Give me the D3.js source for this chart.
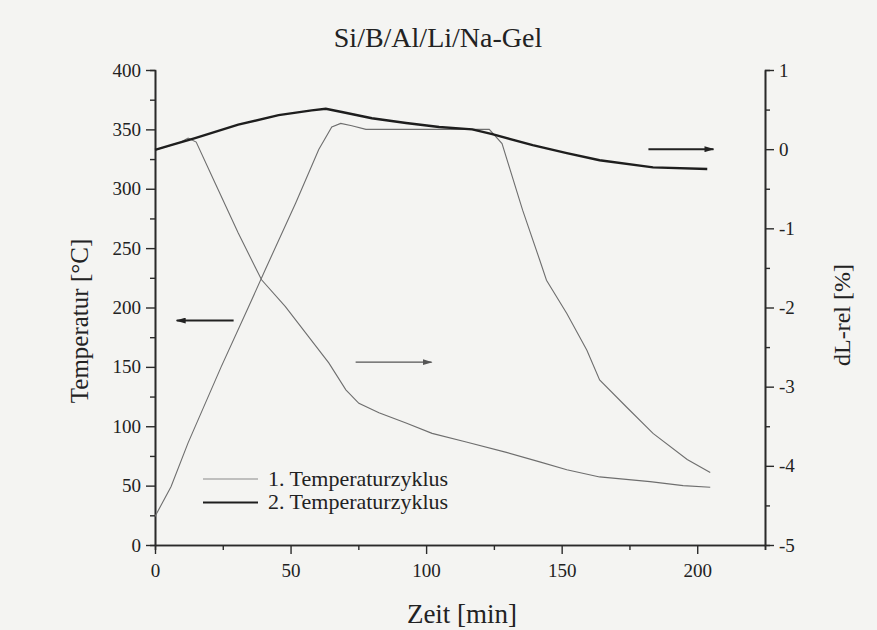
<!DOCTYPE html>
<html>
<head>
<meta charset="utf-8">
<script src="https://cdn.jsdelivr.net/npm/d3@7"></script>
<style>
  body { margin: 0; background: #f4f4f2; }
  svg { display: block; }
  text { font-family: "Liberation Serif", "DejaVu Serif", serif; fill: #222; }
</style>
</head>
<body>
<svg width="877" height="630"></svg>
<script>
const width = 877;
const height = 630;
const serif = "Liberation Serif, DejaVu Serif, serif";

// Temperaturverlauf (linke Achse)
const tempTime = [0, 5.9, 12.2, 24.4, 34.4, 40.7, 51.9, 60.4, 65.2, 68.5, 72.6, 77.8, 100, 123.3, 128, 135.6, 141.9, 144.4, 151.9, 159.3, 164, 174, 183.7, 196.3, 204.8];
const tempValues = [24, 49, 86, 150, 200, 232, 288, 333, 352, 355, 353, 350, 350, 350, 338, 282, 240, 223, 195, 164, 139, 116, 94, 72, 61];

// 1. Temperaturzyklus dL-rel (rechte Achse)
const cycle1Time = [0, 5.9, 9.6, 12.2, 15.2, 22.2, 30.7, 39.3, 48.1, 56.7, 64.1, 70.4, 75.2, 82.6, 92.6, 102.2, 114.8, 129.6, 141.9, 151.9, 164, 182.6, 194.8, 204.8];
const cycle1Values = [-0.01, 0.05, 0.09, 0.14, 0.09, -0.43, -1.06, -1.65, -1.99, -2.37, -2.70, -3.04, -3.21, -3.33, -3.46, -3.59, -3.70, -3.83, -3.95, -4.05, -4.14, -4.20, -4.25, -4.27];

// 2. Temperaturzyklus dL-rel (rechte Achse)
const cycle2Time = [0, 5.9, 14.8, 30.7, 45.6, 57.8, 63, 68.9, 80, 92.6, 104.8, 117, 124.4, 139.3, 151.9, 164, 183.7, 203.7];
const cycle2Values = [-0.01, 0.05, 0.14, 0.31, 0.43, 0.49, 0.51, 0.47, 0.39, 0.33, 0.28, 0.25, 0.19, 0.05, -0.05, -0.14, -0.23, -0.25];

const xTicks = [0, 50, 100, 150, 200];
const leftTicks = [0, 50, 100, 150, 200, 250, 300, 350, 400];
const rightTicks = [-5, -4, -3, -2, -1, 0, 1];

const legendLabels = ["1. Temperaturzyklus", "2. Temperaturzyklus"];

const margin = { left: 155, right: 112, top: 70, bottom: 85 };

const svg = d3.select("svg");

svg.append("rect")
  .attr("width", width)
  .attr("height", height)
  .attr("fill", "#f4f4f2");

const x = d3.scaleLinear()
  .domain([0, 225])
  .range([margin.left, width - margin.right]);

const yLeft = d3.scaleLinear()
  .domain([0, 400])
  .range([height - margin.bottom, margin.top]);

const yRight = d3.scaleLinear()
  .domain([-5, 1])
  .range([height - margin.bottom, margin.top]);

// Achsen
function styleAxis(g) {
  g.attr("font-family", serif);
  g.select(".domain").attr("stroke", "#2a2a2a").attr("stroke-width", 1.6);
  g.selectAll(".tick line").attr("stroke", "#2a2a2a").attr("stroke-width", 1.4);
  g.selectAll(".tick text").style("font-size", "19px").attr("fill", "#222");
}

// Nebenstriche
svg.append("g")
  .attr("transform", `translate(0, ${yLeft(0)})`)
  .call(d3.axisBottom(x).tickValues(d3.range(25, 226, 50)).tickSize(5).tickFormat(""))
  .call(styleAxis);

svg.append("g")
  .attr("transform", `translate(${margin.left}, 0)`)
  .call(d3.axisLeft(yLeft).tickValues(d3.range(25, 400, 50)).tickSize(5).tickFormat(""))
  .call(styleAxis);

svg.append("g")
  .attr("transform", `translate(${width - margin.right}, 0)`)
  .call(d3.axisRight(yRight).tickValues(d3.range(-4.5, 1, 1)).tickSize(5).tickFormat(""))
  .call(styleAxis);

svg.append("g")
  .attr("transform", `translate(0, ${yLeft(0)})`)
  .call(d3.axisBottom(x).tickValues(xTicks).tickSize(9).tickSizeOuter(0).tickPadding(10))
  .call(styleAxis);

svg.append("g")
  .attr("transform", `translate(${margin.left}, 0)`)
  .call(d3.axisLeft(yLeft).tickValues(leftTicks).tickSize(9).tickSizeOuter(0).tickPadding(5))
  .call(styleAxis);

const rightAxis = svg.append("g")
  .attr("transform", `translate(${width - margin.right}, 0)`)
  .call(d3.axisRight(yRight).tickValues(rightTicks).tickSize(9).tickSizeOuter(0).tickPadding(5))
  .call(styleAxis);

rightAxis.selectAll(".tick text").text(d => d < 0 ? "-" + Math.abs(d) : d);

// Kurven
const tempLine = d3.line()
  .x((d, i) => x(tempTime[i]))
  .y(d => yLeft(d));

const dlLine = (times) => d3.line()
  .x((d, i) => x(times[i]))
  .y(d => yRight(d));

svg.append("path")
  .datum(tempValues)
  .attr("fill", "none")
  .attr("stroke", "#6e6e6e")
  .attr("stroke-width", 1.1)
  .attr("d", tempLine);

svg.append("path")
  .datum(cycle1Values)
  .attr("fill", "none")
  .attr("stroke", "#6e6e6e")
  .attr("stroke-width", 1.1)
  .attr("d", dlLine(cycle1Time));

svg.append("path")
  .datum(cycle2Values)
  .attr("fill", "none")
  .attr("stroke", "#1e1e1e")
  .attr("stroke-width", 2.4)
  .attr("d", dlLine(cycle2Time));

// Pfeile
const defs = svg.append("defs");
[["arrowDark", "#222"], ["arrowGrey", "#555"]].forEach(([id, col]) => {
  defs.append("marker")
    .attr("id", id)
    .attr("viewBox", "0 0 10 6")
    .attr("refX", 9)
    .attr("refY", 3)
    .attr("markerWidth", 10)
    .attr("markerHeight", 6)
    .attr("markerUnits", "userSpaceOnUse")
    .attr("orient", "auto")
    .append("path")
    .attr("d", "M0,0 L10,3 L0,6 Z")
    .attr("fill", col);
});

// Pfeile in Datenkoordinaten (Zeit, Achsenwert)
const arrows = [
  { x1: 29, x2: 8, y: 189, axis: "left", color: "#222", w: 2, m: "arrowDark" },
  { x1: 74, x2: 102, y: -2.69, axis: "right", color: "#555", w: 1.1, m: "arrowGrey" },
  { x1: 182, x2: 206, y: 0, axis: "right", color: "#222", w: 2, m: "arrowDark" }
];

arrows.forEach(a => {
  const yy = a.axis === "left" ? yLeft(a.y) : yRight(a.y);
  svg.append("line")
    .attr("x1", x(a.x1))
    .attr("x2", x(a.x2))
    .attr("y1", yy)
    .attr("y2", yy)
    .attr("stroke", a.color)
    .attr("stroke-width", a.w)
    .attr("marker-end", `url(#${a.m})`);
});

// Legende
const legend = svg.append("g").attr("transform", "translate(203, 479)");
legendLabels.forEach((label, i) => {
  legend.append("line")
    .attr("x1", 0).attr("x2", 55)
    .attr("y1", i * 23.5).attr("y2", i * 23.5)
    .attr("stroke", i === 0 ? "#8a8a8a" : "#1e1e1e")
    .attr("stroke-width", i === 0 ? 1.1 : 2.2);
  legend.append("text")
    .attr("x", 65)
    .attr("y", i * 23.5 + 6.5)
    .attr("font-family", serif)
    .style("font-size", "22px")
    .text(label);
});

// Titel und Achsentitel
svg.append("text")
  .attr("x", 438)
  .attr("y", 47)
  .attr("text-anchor", "middle")
  .attr("font-family", serif)
  .style("font-size", "28px")
  .text("Si/B/Al/Li/Na-Gel");

svg.append("text")
  .attr("x", 462)
  .attr("y", 623)
  .attr("text-anchor", "middle")
  .attr("font-family", serif)
  .style("font-size", "27px")
  .text("Zeit [min]");

svg.append("text")
  .attr("transform", "translate(88, 321) rotate(-90)")
  .attr("text-anchor", "middle")
  .attr("font-family", serif)
  .style("font-size", "25px")
  .text("Temperatur [°C]");

svg.append("text")
  .attr("transform", "translate(850, 315) rotate(-90)")
  .attr("text-anchor", "middle")
  .attr("font-family", serif)
  .style("font-size", "24px")
  .text("dL-rel [%]");
</script>
</body>
</html>
